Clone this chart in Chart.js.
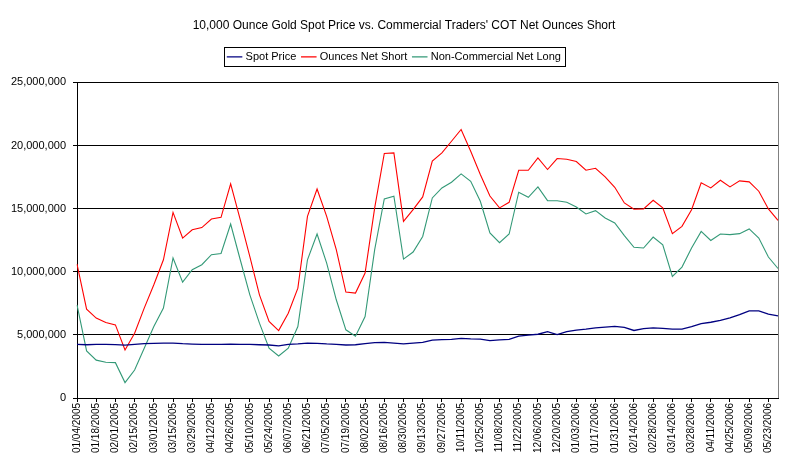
<!DOCTYPE html>
<html>
<head>
<meta charset="utf-8">
<script src="https://cdn.jsdelivr.net/npm/chart.js@4"></script>
<style>
  html, body { margin: 0; padding: 0; background: #fff; }
  #wrap { width: 804px; height: 471px; }
</style>
</head>
<body>
<div id="wrap"><canvas id="cotChart" width="804" height="471"></canvas></div>
<script>
// weekly COT report dates
const dates = [
  '01/04/2005','01/11/2005','01/18/2005','01/25/2005','02/01/2005','02/08/2005','02/15/2005','02/22/2005',
  '03/01/2005','03/08/2005','03/15/2005','03/22/2005','03/29/2005','04/05/2005','04/12/2005','04/19/2005',
  '04/26/2005','05/03/2005','05/10/2005','05/17/2005','05/24/2005','05/31/2005','06/07/2005','06/14/2005',
  '06/21/2005','06/28/2005','07/05/2005','07/12/2005','07/19/2005','07/26/2005','08/02/2005','08/09/2005',
  '08/16/2005','08/23/2005','08/30/2005','09/06/2005','09/13/2005','09/20/2005','09/27/2005','10/04/2005',
  '10/11/2005','10/18/2005','10/25/2005','11/01/2005','11/08/2005','11/15/2005','11/22/2005','11/29/2005',
  '12/06/2005','12/13/2005','12/20/2005','12/27/2005','01/03/2006','01/10/2006','01/17/2006','01/24/2006',
  '01/31/2006','02/07/2006','02/14/2006','02/21/2006','02/28/2006','03/07/2006','03/14/2006','03/21/2006',
  '03/28/2006','04/04/2006','04/11/2006','04/18/2006','04/25/2006','05/02/2006','05/09/2006','05/16/2006',
  '05/23/2006','05/30/2006'
];

// values in millions of ounces / dollars
const spotPrice = [
  4.25, 4.22, 4.25, 4.25, 4.23, 4.19, 4.25, 4.3, 4.33, 4.35, 4.35, 4.3, 4.27, 4.25, 4.25, 4.25,
  4.27, 4.25, 4.25, 4.22, 4.2, 4.13, 4.25, 4.28, 4.35, 4.33, 4.28, 4.25, 4.2, 4.22, 4.3, 4.38,
  4.4, 4.35, 4.28, 4.35, 4.4, 4.58, 4.62, 4.65, 4.72, 4.68, 4.66, 4.55, 4.6, 4.65, 4.9, 4.98,
  5.05, 5.25, 5.02, 5.25, 5.38, 5.45, 5.55, 5.62, 5.68, 5.6, 5.35, 5.5, 5.56, 5.52, 5.45, 5.45,
  5.65, 5.9, 6.0, 6.15, 6.35, 6.6, 6.9, 6.9, 6.65, 6.5
];
const netShort = [
  10.6, 7.04, 6.33, 5.98, 5.79, 3.81, 5.13, 7.12, 8.97, 10.95, 14.7, 12.67, 13.33, 13.5, 14.18, 14.31,
  16.96, 14.13, 11.2, 8.17, 6.06, 5.34, 6.72, 8.7, 14.39, 16.56, 14.39, 11.75, 8.39, 8.31, 9.9, 15.06,
  19.37, 19.42, 13.99, 14.92, 15.93, 18.76, 19.42, 20.34, 21.27, 19.55, 17.7, 16.0, 15.06, 15.5, 18.04, 18.04,
  19.02, 18.1, 18.97, 18.91, 18.73, 18.04, 18.2, 17.52, 16.69, 15.45, 14.95, 14.98, 15.66, 15.06, 13.02, 13.6,
  14.92, 17.04, 16.64, 17.25, 16.72, 17.2, 17.12, 16.38, 14.98, 14.07
];
const nonCommLong = [
  7.38, 3.73, 3.0, 2.83, 2.8, 1.22, 2.22, 3.94, 5.66, 7.12, 11.09, 9.18, 10.16, 10.56, 11.35, 11.45,
  13.78, 10.95, 8.17, 5.93, 3.94, 3.33, 3.94, 5.66, 10.95, 12.99, 10.69, 7.78, 5.4, 4.9, 6.45, 11.75,
  15.77, 15.98, 11.0, 11.56, 12.8, 15.85, 16.64, 17.09, 17.75, 17.17, 15.58, 13.07, 12.3, 12.99, 16.3, 15.9,
  16.72, 15.63, 15.63, 15.5, 15.13, 14.58, 14.84, 14.26, 13.87, 12.86, 11.94, 11.88, 12.75, 12.14, 9.63, 10.37,
  11.88, 13.2, 12.48, 12.99, 12.94, 13.02, 13.39, 12.67, 11.17, 10.26
];

const yMin = 0, yMax = 25000000, yStep = 5000000;
const toOunces = arr => arr.map(v => Math.round(v * 1000000));

// box round the legend like excel does, plus some room under it
const legendBox = {
  id: 'legendBox',
  afterInit(chart) {
    const lg = chart.legend;
    if (!lg) return;
    const fit = lg.fit;
    lg.fit = function () {
      fit.call(this);
      this.height += 10;
    };
  },
  afterLayout(chart) {
    // legend sits a bit left of the title in the original
    const lg = chart.legend;
    if (!lg) return;
    lg.left -= 9;
    lg.right -= 9;
  },
  afterDraw(chart) {
    const lg = chart.legend;
    if (!lg || !lg.legendHitBoxes.length) return;
    const hb = lg.legendHitBoxes;
    const x1 = Math.min(...hb.map(h => h.left)) - 5;
    const x2 = Math.max(...hb.map(h => h.left + h.width)) + 4;
    const y1 = Math.min(...hb.map(h => h.top)) - 4;
    const y2 = Math.max(...hb.map(h => h.top + h.height)) + 4;
    const ctx = chart.ctx;
    ctx.save();
    ctx.strokeStyle = '#000';
    ctx.lineWidth = 1;
    ctx.strokeRect(Math.round(x1) + 0.5, Math.round(y1) + 0.5, Math.round(x2 - x1), Math.round(y2 - y1));
    ctx.restore();
  }
};

const ctx = document.getElementById('cotChart').getContext('2d');
new Chart(ctx, {
  type: 'line',
  data: {
    labels: dates,
    datasets: [
      { label: 'Spot Price', data: toOunces(spotPrice), borderColor: '#000080', borderWidth: 1.3 },
      { label: 'Ounces Net Short', data: toOunces(netShort), borderColor: '#ff0000', borderWidth: 1.1 },
      { label: 'Non-Commercial Net Long', data: toOunces(nonCommLong), borderColor: '#339977', borderWidth: 1.1 }
    ]
  },
  options: {
    responsive: false,
    animation: false,
    devicePixelRatio: 1,
    elements: { point: { radius: 0 }, line: { tension: 0, fill: false } },
    layout: { padding: { left: 4, right: 0, top: 0, bottom: 0 } },
    plugins: {
      title: {
        display: true,
        text: "10,000 Ounce Gold Spot Price vs. Commercial Traders' COT Net Ounces Short",
        color: '#000',
        font: { family: 'Arial, "Liberation Sans"', size: 12, weight: 'normal' },
        padding: { top: 18, bottom: 12 }
      },
      legend: {
        position: 'top',
        labels: {
          color: '#000',
          font: { family: 'Arial, "Liberation Sans"', size: 11 },
          usePointStyle: true,
          pointStyle: 'line',
          boxWidth: 18,
          padding: 7
        }
      },
      tooltip: { enabled: false }
    },
    scales: {
      x: {
        offset: false,
        border: { color: '#000', width: 1 },
        grid: {
          drawOnChartArea: false,
          drawTicks: true,
          tickLength: 4,
          color: c => (c.index % 2 === 0 ? '#000' : 'rgba(0,0,0,0)')
        },
        ticks: {
          autoSkip: false,
          maxRotation: 90,
          minRotation: 90,
          padding: 1,
          color: '#000',
          font: { family: 'Arial, "Liberation Sans"', size: 10 },
          callback: function (val, i) { return i % 2 === 0 ? this.getLabelForValue(val) : ''; }
        },
        afterFit: s => { s.height = 73; }
      },
      y: {
        min: yMin,
        max: yMax,
        border: { color: '#000', width: 1 },
        grid: { color: '#000', lineWidth: 1, tickLength: 4 },
        ticks: {
          stepSize: yStep,
          color: '#000',
          padding: 7,
          font: { family: 'Arial, "Liberation Sans"', size: 11 },
          callback: v => v.toLocaleString('en-US')
        },
        afterFit: s => { s.width = 73; }
      },
      // empty right axis, only keeps the gap on the right side
      yRight: {
        position: 'right',
        display: true,
        min: yMin,
        max: yMax,
        border: { display: false },
        grid: { drawOnChartArea: false, drawTicks: false },
        ticks: { display: false },
        afterFit: s => { s.width = 26; }
      }
    }
  },
  plugins: [legendBox, {
    id: 'rightBorder',
    afterDraw(chart) {
      const a = chart.chartArea, c = chart.ctx;
      c.save();
      c.strokeStyle = '#808080';
      c.lineWidth = 1;
      c.beginPath();
      c.moveTo(Math.round(a.right) + 0.5, a.top);
      c.lineTo(Math.round(a.right) + 0.5, a.bottom);
      c.stroke();
      c.restore();
    }
  }]
});
</script>
</body>
</html>
